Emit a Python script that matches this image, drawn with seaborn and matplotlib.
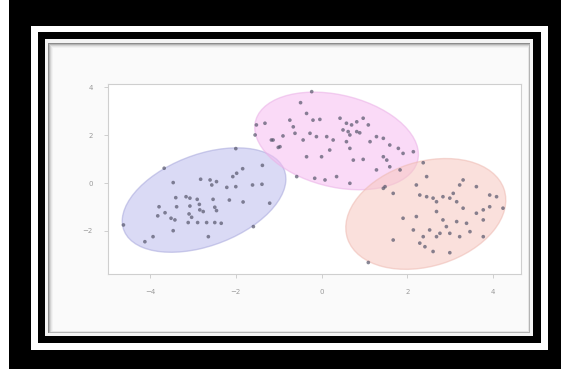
import numpy as np
import pandas as pd

import matplotlib
matplotlib.use('Agg')

import matplotlib.pyplot as plt
from matplotlib.patches import Ellipse, Rectangle
import seaborn as sns


# =========================================================
# DATA
# =========================================================

blue_x = [-2.00, -1.38, -1.84, -2.07, -1.98, -2.82, -2.60, -2.45, -3.46, -2.56,
          -2.21, -2.00, -1.61, -1.39, -3.40, -3.16, -3.07, -2.90, -2.53, -2.15,
          -1.83, -1.21, -3.79, -3.38, -3.07, -2.85, -3.65, -3.82, -2.49, -2.45,
          -2.76, -3.09, -2.84, -3.03, -3.51, -3.42, -3.11, -2.89, -2.68, -2.49,
          -2.34, -1.59, -3.46, -4.62, -2.64, -3.93, -4.12, -3.67]
blue_y = [1.44, 0.74, 0.60, 0.27, 0.41, 0.16, 0.13, 0.06, 0.02, -0.08,
          -0.18, -0.15, -0.08, -0.05, -0.61, -0.57, -0.63, -0.68, -0.68, -0.71,
          -0.79, -0.84, -0.99, -0.99, -0.96, -0.89, -1.24, -1.37, -1.01, -1.15,
          -1.19, -1.29, -1.12, -1.43, -1.47, -1.54, -1.65, -1.65, -1.65, -1.65,
          -1.68, -1.82, -1.99, -1.75, -2.24, -2.24, -2.45, 0.62]

pink_x = [-1.52, -1.32, -0.49, -0.74, -0.62, -0.43, -0.90, -1.13, -1.01, -0.35,
          -0.58, -1.55, -0.23, -0.35, -0.20, -0.04, -0.66, -0.27, -0.12, 0.43,
          0.58, 0.70, 0.82, 0.97, 1.09, 0.50, 0.62, 0.66, 0.82, 0.89,
          -1.17, -0.97, 0.12, 0.27, 0.58, 0.66, 1.13, 1.28, 1.44, 1.59,
          1.79, 1.90, 2.14, 0.00, 0.19, 0.74, 0.97, 1.44, 1.52, 1.59,
          1.28, 1.83, -0.16, 0.08, 0.35, 0.66]
pink_y = [2.43, 2.50, 3.36, 2.63, 2.08, 1.80, 1.97, 1.80, 1.49, 1.10,
          0.27, 2.01, 3.82, 2.91, 2.63, 2.66, 2.35, 2.08, 1.94, 2.71,
          2.50, 2.43, 2.56, 2.71, 2.43, 2.22, 2.15, 2.01, 2.15, 2.10,
          1.80, 1.52, 1.94, 1.80, 1.73, 1.45, 1.73, 1.94, 1.87, 1.59,
          1.45, 1.24, 1.31, 1.10, 1.38, 0.96, 0.99, 1.10, 0.96, 0.68,
          0.55, 0.55, 0.20, 0.13, 0.27, -0.01]

salmon_x = [2.37, 1.44, 1.67, 2.21, 2.29, 2.45, 2.60, 2.68, 2.83, 2.99,
            3.15, 3.07, 3.22, 3.61, 3.92, 4.08, 2.21, 2.68, 3.30, 3.61,
            3.77, 3.92, 4.23, 1.90, 2.83, 2.91, 3.15, 3.38, 3.77, 2.52,
            2.37, 2.29, 2.41, 2.68, 2.76, 2.99, 3.22, 3.46, 1.67, 2.14,
            2.60, 2.99, 3.77, 1.09, 1.48, 2.45, 3.30]
salmon_y = [0.85, -0.22, -0.43, -0.08, -0.50, -0.57, -0.63, -0.78, -0.57, -0.63,
            -0.78, -0.43, -0.08, -0.15, -0.50, -0.57, -1.40, -1.19, -1.05, -1.26,
            -1.12, -0.99, -1.05, -1.47, -1.54, -1.82, -1.61, -1.68, -1.54, -1.96,
            -2.24, -2.51, -2.66, -2.24, -2.10, -2.10, -2.24, -2.03, -2.38, -1.96,
            -2.86, -2.91, -2.24, -3.32, -0.15, 0.27, 0.13]

# fitted components (means / covariances)
comp_names = ["blue", "pink", "salmon"]
comp_means = [[-2.74, -0.71], [0.35, 1.76], [2.43, -1.29]]
comp_covs = [
    [[0.91, 0.42], [0.42, 1.19]],
    [[0.91, -0.27], [-0.27, 1.04]],
    [[0.87, 0.27], [0.27, 1.34]],
]
comp_colors = ["#bcbcee", "#f6bcf2", "#f7c8c0"]
comp_edges = ["#a8a8dc", "#eab0e6", "#eebab2"]

x_ticks = [-4, -2, 0, 2, 4]
y_ticks = [-2, 0, 2, 4]

df = pd.DataFrame({
    "x": blue_x + pink_x + salmon_x,
    "y": blue_y + pink_y + salmon_y,
})


# =========================================================
# FIGURE + PICTURE FRAME
# =========================================================

W, H = 561, 369

fig = plt.figure(figsize=(W / 100, H / 100), dpi=100)
fig.patch.set_facecolor("black")


def frame_rect(x0, y0, x1, y1, color, z):
    fig.patches.append(Rectangle(
        (x0 / W, 1 - y1 / H),
        (x1 - x0) / W,
        (y1 - y0) / H,
        transform=fig.transFigure,
        facecolor=color,
        edgecolor="none",
        zorder=z
    ))


frame_rect(0, 0, 9, H, "white", -20)
frame_rect(31, 26, 548, 350, "white", -19)
frame_rect(38, 32, 541, 343, "black", -18)
frame_rect(45, 39, 533, 336, "#f4f4f4", -17)

# shadowed panel
shades = ["#8c8c8c", "#b4b4b4", "#d2d2d2", "#e6e6e6", "#f2f2f2", "#fafafa"]
for i, c in enumerate(shades):
    frame_rect(48 + i, 43 + i, 530 - i * 0.5, 333 - i * 0.5, c, -16 + i)


# =========================================================
# SCATTER + ELLIPSES
# =========================================================

ax = fig.add_axes([108 / W, 1 - 274 / H, 413 / W, 190 / H])
ax.set_facecolor("white")

for mean, cov, fc, ec in zip(comp_means, comp_covs, comp_colors, comp_edges):
    vals, vecs = np.linalg.eigh(np.array(cov))
    angle = np.degrees(np.arctan2(vecs[1, 1], vecs[0, 1]))
    ell = Ellipse(
        mean,
        4 * np.sqrt(vals[1]),
        4 * np.sqrt(vals[0]),
        angle=angle,
        facecolor=fc,
        edgecolor=ec,
        alpha=0.55,
        linewidth=1.0,
        zorder=1
    )
    ax.add_patch(ell)

sns.scatterplot(
    data=df,
    x="x",
    y="y",
    color="#55556a",
    s=7,
    edgecolor="none",
    alpha=0.7,
    legend=False,
    ax=ax,
    zorder=2
)

ax.set_xlim(-4.98, 4.65)
ax.set_ylim(-3.80, 4.14)
ax.set_xticks(x_ticks)
ax.set_yticks(y_ticks)
ax.set_xlabel("")
ax.set_ylabel("")

for s in ax.spines.values():
    s.set_color("#cfcfcf")
    s.set_linewidth(0.8)

ax.tick_params(
    colors="#c8c8c8",
    labelcolor="#9a9a9a",
    labelsize=5,
    length=3,
    width=0.6,
    pad=8
)

plt.savefig("out.png", dpi=100, facecolor=fig.get_facecolor())
plt.close()
